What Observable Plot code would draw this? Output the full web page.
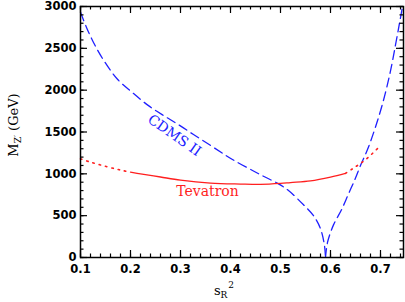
<!DOCTYPE html>
<html><head><meta charset="utf-8">
<script src="https://cdn.jsdelivr.net/npm/d3@7"></script>
<script src="https://cdn.jsdelivr.net/npm/@observablehq/plot@0.6"></script>
<style>body{margin:0;background:#fff} svg{display:block;background:#fff}</style>
</head><body><div id="chart"></div>
<script>
// CDMS II bound (blue dashed), two branches meeting at the cusp
const cdmsLeftX = [0.100,0.112,0.126,0.146,0.174,0.204,0.236,0.264,0.294,0.326,0.360,0.388,0.410,0.444,0.468,0.496,0.516,0.546,0.566,0.580,0.588,0.590];
const cdmsLeftY = [2930,2750,2570,2360,2130,1970,1815,1705,1595,1470,1340,1230,1150,1040,965,880,800,630,500,344,140,0];
const cdmsRightX = [0.590,0.594,0.606,0.622,0.636,0.650,0.660,0.674,0.690,0.706,0.720,0.730,0.738,0.744];
const cdmsRightY = [0,180,390,570,760,950,1100,1290,1560,1880,2230,2540,2800,3000];
// Tevatron bound (red): dotted - solid - dotted
const tevLowX = [0.100,0.120,0.150,0.180,0.200];
const tevLowY = [1180,1140,1090,1045,1020];
const tevMidX = [0.200,0.220,0.260,0.300,0.360,0.420,0.460,0.500,0.520,0.560,0.600,0.630];
const tevMidY = [1020,1000,962,925,890,878,874,885,895,915,960,1005];
const tevHighX = [0.630,0.644,0.654,0.666,0.676,0.686,0.697];
const tevHighY = [1005,1060,1100,1150,1200,1255,1320];
// labels
const labelText = ["CDMS II", "Tevatron"];
const labelX = [0.288, 0.354];
const labelY = [1460, 788];
const labelColor = ["#1f1fff", "#ff1f1f"];
const labelAngle = [35, 0];
// ticks
const xMajor = [0.1,0.2,0.3,0.4,0.5,0.6,0.7];
const xMinor = d3.range(0.1, 0.7401, 0.02).map(v => +v.toFixed(2));
const yMajor = [0,500,1000,1500,2000,2500,3000];
const yMinor = d3.range(0, 3001, 100);

const pts = (xs, ys) => xs.map((x, i) => ({x, y: ys[i]}));
const labels = labelText.map((t, i) => ({t, x: labelX[i], y: labelY[i], c: labelColor[i], a: labelAngle[i]}));

const W = 405, H = 302, mL = 80, mR = 2, mT = 6, mB = 45;
const pw = W - mL - mR, ph = H - mT - mB;
const major = 7, minor = 3.5;

const chart = Plot.plot({
  width: W, height: H,
  marginLeft: mL, marginRight: mR, marginTop: mT, marginBottom: mB,
  x: {domain: [0.1, 0.746]},
  y: {domain: [0, 3000]},
  style: {fontFamily: "DejaVu Sans", fontSize: "11.5px", fontWeight: "bold", color: "black", background: "white", overflow: "visible"},
  marks: [
    Plot.line(pts(cdmsLeftX, cdmsLeftY), {x: "x", y: "y", curve: "catmull-rom", stroke: "#1f1fff", strokeWidth: 1.3, strokeDasharray: "9,5", clip: true}),
    Plot.line(pts(cdmsRightX, cdmsRightY), {x: "x", y: "y", curve: "catmull-rom", stroke: "#1f1fff", strokeWidth: 1.3, strokeDasharray: "9,5", clip: true}),
    Plot.line(pts(tevLowX, tevLowY), {x: "x", y: "y", curve: "catmull-rom", stroke: "#ff1f1f", strokeWidth: 1.6, strokeDasharray: "1.5,5", strokeLinecap: "round"}),
    Plot.line(pts(tevMidX, tevMidY), {x: "x", y: "y", curve: "catmull-rom", stroke: "#ff1f1f", strokeWidth: 1.3}),
    Plot.line(pts(tevHighX, tevHighY), {x: "x", y: "y", curve: "catmull-rom", stroke: "#ff1f1f", strokeWidth: 1.6, strokeDasharray: "1.5,5", strokeLinecap: "round"}),
    Plot.text(labels, {x: "x", y: "y", text: "t", fill: "c", rotate: "a", fontFamily: "DejaVu Serif", fontSize: 14, fontWeight: "normal"}),
    // inward ticks on all four sides
    Plot.tickX(xMajor, {insetTop: ph - major, stroke: "black", strokeWidth: 1.2}),
    Plot.tickX(xMinor, {insetTop: ph - minor, stroke: "black", strokeWidth: 1.2}),
    Plot.tickX(xMajor, {insetBottom: ph - major, stroke: "black", strokeWidth: 1.2}),
    Plot.tickX(xMinor, {insetBottom: ph - minor, stroke: "black", strokeWidth: 1.2}),
    Plot.tickY(yMajor, {insetRight: pw - major, stroke: "black", strokeWidth: 1.2}),
    Plot.tickY(yMinor, {insetRight: pw - minor, stroke: "black", strokeWidth: 1.2}),
    Plot.tickY(yMajor, {insetLeft: pw - major, stroke: "black", strokeWidth: 1.2}),
    Plot.tickY(yMinor, {insetLeft: pw - minor, stroke: "black", strokeWidth: 1.2}),
    Plot.axisX({ticks: xMajor, tickSize: 0, tickPadding: 7, label: null, tickFormat: d3.format(".1f")}),
    Plot.axisY({ticks: yMajor, tickSize: 0, tickPadding: 4, label: null, tickFormat: d3.format("d")}),
    Plot.frame({stroke: "black", strokeWidth: 1.5})
  ]
});
document.getElementById("chart").appendChild(chart);

// axis titles with sub/superscripts
const svg = d3.select(chart);
const yt = svg.append("text")
  .attr("transform", `translate(18,125) rotate(-90)`)
  .attr("text-anchor", "middle")
  .attr("font-family", "DejaVu Serif").attr("font-size", 13).attr("font-weight", "normal").attr("fill", "black");
yt.append("tspan").text("M");
yt.append("tspan").attr("dy", 3).attr("font-size", 9).text("Z′");
yt.append("tspan").attr("dy", -3).text(" (GeV)");

const xt = svg.append("text")
  .attr("x", 224).attr("y", 295)
  .attr("font-family", "DejaVu Serif").attr("font-size", 13).attr("font-weight", "normal").attr("fill", "black");
xt.append("tspan").text("s");
xt.append("tspan").attr("dy", 3).attr("font-size", 9).text("R");
xt.append("tspan").attr("dy", -10).attr("dx", 1).attr("font-size", 9).text("2");
</script>
</body></html>
